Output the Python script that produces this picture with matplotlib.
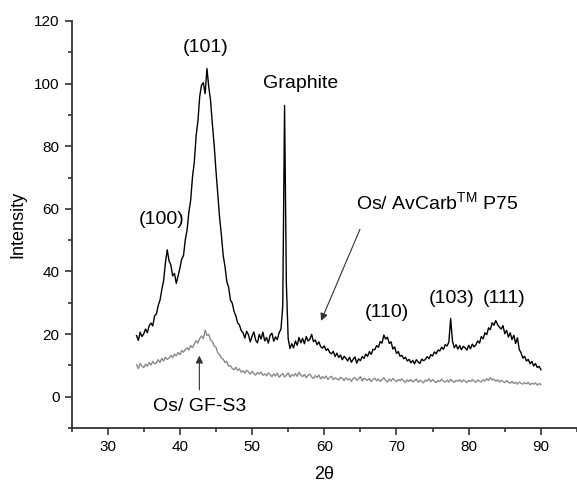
import numpy as np
import matplotlib
matplotlib.use("Agg")
import matplotlib.pyplot as plt
from matplotlib.ticker import MultipleLocator

plt.rcParams['font.family'] = ['Liberation Sans', 'DejaVu Sans']
plt.rcParams['mathtext.fontset'] = 'custom'
plt.rcParams['mathtext.rm'] = 'Liberation Sans'

# 2-theta grid, 0.25 deg steps from 34 to 90
two_theta = np.arange(34, 90.01, 0.25)

# Os/ AvCarb P75 (black)
avcarb = [
    19.5, 18.0, 20.6, 19.2, 20.1, 21.6, 20.4, 22.7, 23.5, 22.6, 25.8, 26.4,
    29.1, 30.8, 34.2, 37.0, 42.8, 46.9, 43.4, 42.1, 38.6, 39.4, 36.2, 38.5,
    41.0, 43.9, 45.0, 50.1, 53.2, 59.0, 62.8, 70.2, 74.9, 83.3, 88.0, 95.9,
    99.5, 100.3, 96.8, 104.8, 99.0, 94.6, 87.1, 80.4, 72.2, 64.6, 57.3, 51.7,
    45.1, 41.6, 36.8, 35.0, 30.9, 29.9, 27.3, 25.8, 23.6, 22.9, 21.1, 20.4,
    18.7, 20.9, 19.8, 17.5, 19.3, 20.7, 18.0, 17.2, 19.9, 18.4, 20.6, 17.8,
    18.9, 17.1, 19.6, 20.3, 17.7, 19.1, 18.2, 20.5, 21.5, 29.0, 93.0, 36.0,
    18.5, 15.4, 16.9, 15.6, 17.8, 16.4, 18.9, 17.2, 18.6, 16.9, 19.2, 17.8,
    18.3, 19.9, 17.6, 18.1, 16.6, 17.5, 16.0, 15.5, 16.2, 14.8, 15.3, 14.1,
    13.7, 14.5, 12.8, 13.9, 12.5, 13.3, 11.8, 12.9, 12.2, 11.4, 12.6, 11.0,
    11.9, 12.7, 10.7, 12.1, 11.5, 12.8, 12.2, 13.6, 12.9, 14.4, 13.5, 15.1,
    15.0, 16.3, 15.8, 17.6, 17.1, 19.7, 18.4, 19.0, 17.0, 17.5, 15.2, 15.9,
    13.8, 14.4, 12.9, 13.2, 12.1, 12.6, 11.4, 11.9, 10.8, 11.6, 10.5, 11.8,
    11.1, 10.6, 12.0, 11.5, 11.9, 12.8, 12.1, 13.4, 13.0, 14.3, 13.7, 14.9,
    14.6, 15.8, 15.1, 16.6, 16.2, 17.4, 25.0, 17.8, 15.6, 16.6, 15.2, 16.3,
    15.0, 16.1, 15.6, 14.9, 16.4, 15.3, 16.8, 15.9, 16.6, 17.8, 17.1, 19.2,
    18.5, 20.4, 19.8, 22.0, 21.4, 23.6, 22.8, 24.3, 23.0, 22.2, 21.6, 22.7,
    20.1, 21.2, 19.0, 20.4, 18.2, 19.6, 17.0, 18.8, 15.1, 14.0, 12.3, 12.9,
    11.4, 11.9, 10.5, 11.3, 9.8, 10.6, 9.3, 9.7, 8.6,
]

# Os/ GF-S3 (grey)
gfs3 = [
    10.2, 9.0, 10.6, 9.8, 9.3, 10.4, 9.7, 10.9, 10.1, 11.3, 10.5, 10.8,
    11.8, 10.9, 12.2, 11.4, 12.6, 11.9, 12.3, 13.2, 12.5, 13.6, 13.0, 14.1,
    13.4, 14.8, 14.2, 15.0, 15.6, 14.9, 16.3, 15.7, 16.8, 17.9, 17.1, 18.6,
    19.4, 18.5, 21.3, 19.6, 19.9, 18.1, 17.6, 16.2, 15.8, 14.0, 13.5, 12.4,
    12.0, 10.9, 11.2, 9.7, 9.9, 9.0, 8.6, 9.4, 8.4, 8.9, 7.8, 8.3,
    7.5, 8.4, 7.9, 7.2, 8.1, 7.4, 6.9, 7.7, 7.2, 7.9, 6.8, 7.3,
    6.7, 7.6, 7.1, 6.4, 7.3, 6.6, 7.5, 6.2, 6.9, 7.4, 6.3, 6.8,
    7.6, 6.2, 7.0, 6.6, 7.4, 6.5, 7.8, 6.9, 6.4, 7.1, 6.0, 6.8,
    7.2, 6.3, 5.8, 6.7, 6.1, 6.9, 5.7, 6.4, 5.9, 6.6, 5.5, 6.2,
    6.5, 5.4, 6.0, 5.7, 5.3, 6.2, 5.8, 5.1, 6.0, 5.4, 5.7, 4.9,
    5.8, 6.1, 5.2, 5.6, 6.4, 5.0, 5.9, 5.5, 5.2, 5.8, 4.8, 5.5,
    5.9, 5.1, 5.6, 4.9, 5.4, 6.0, 5.2, 4.7, 5.6, 5.0, 5.8, 5.3,
    4.8, 5.5, 5.1, 5.7, 5.0, 4.6, 5.4, 4.9, 5.5, 4.7, 5.1, 5.6,
    4.6, 5.2, 4.9, 4.4, 5.3, 5.0, 5.7, 4.8, 5.4, 4.9, 4.5, 5.2,
    4.8, 5.6, 5.0, 4.6, 5.3, 4.7, 5.5, 5.0, 4.6, 5.2, 4.9, 5.4,
    4.7, 5.3, 5.0, 4.5, 5.2, 4.8, 5.5, 4.9, 4.6, 5.3, 5.0, 4.7,
    5.4, 5.0, 5.7, 5.2, 6.1, 5.3, 5.6, 4.9, 5.4, 4.7, 5.2, 4.8,
    4.5, 5.1, 4.6, 4.3, 4.9, 4.2, 4.6, 4.0, 4.7, 4.3, 4.0, 4.5,
    4.1, 4.6, 3.8, 4.3, 4.0, 4.4, 3.7, 4.2, 3.9,
]

fig = plt.figure(figsize=(5.77, 4.88), dpi=100)
ax = fig.add_axes([0.124, 0.123, 0.876, 0.834])

ax.plot(two_theta, gfs3, color='#8a8a8a', lw=1.0)
ax.plot(two_theta, avcarb, color='black', lw=1.0)

ax.set_xlim(25, 95)
ax.set_ylim(-10, 120)
ax.xaxis.set_major_locator(MultipleLocator(10))
ax.xaxis.set_minor_locator(MultipleLocator(5))
ax.yaxis.set_major_locator(MultipleLocator(20))
ax.yaxis.set_minor_locator(MultipleLocator(10))
ax.tick_params(which='major', direction='out', length=5, width=1.2,
               labelsize=11, color='#333333')
ax.tick_params(which='minor', direction='out', length=3, width=1.2, color='#333333')
ax.spines['top'].set_visible(False)
ax.spines['right'].set_visible(False)
for s in ('left', 'bottom'):
    ax.spines[s].set_linewidth(1.3)
    ax.spines[s].set_color('#333333')

ax.set_xlabel('2θ', fontsize=13, labelpad=9)
ax.set_ylabel('Intensity', fontsize=13, labelpad=6)

# peak labels
fs = 14
ax.text(43.5, 111.5, '(101)', ha='center', va='center', fontsize=fs)
ax.text(37.5, 56.5, '(100)', ha='center', va='center', fontsize=fs)
ax.text(56.7, 100, 'Graphite', ha='center', va='center', fontsize=fs)
ax.text(68.7, 27, '(110)', ha='center', va='center', fontsize=fs)
ax.text(77.7, 31.5, '(103)', ha='center', va='center', fontsize=fs)
ax.text(84.9, 31.5, '(111)', ha='center', va='center', fontsize=fs)
ax.text(75.7, 62, r'Os/ AvCarb$^{\mathrm{TM}}$ P75', ha='center', va='center', fontsize=fs)
ax.text(42.7, -3, 'Os/ GF-S3', ha='center', va='center', fontsize=fs)

arrow = dict(arrowstyle='-|>', color='#333333', lw=0.8, mutation_scale=11)
ax.annotate('', xy=(59.4, 23.4), xytext=(65.1, 54.3), arrowprops=arrow)
ax.annotate('', xy=(42.7, 14.0), xytext=(42.7, 1.3), arrowprops=arrow)

fig.savefig('out.png', dpi=100)
